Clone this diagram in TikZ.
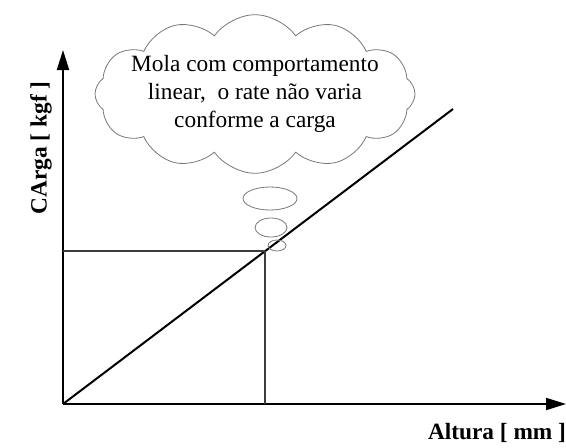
\documentclass[tikz,border=0pt]{standalone}
\usepackage{fontspec}
\setmainfont{Liberation Serif}
\usetikzlibrary{arrows.meta,shapes.symbols}

\begin{document}
\begin{tikzpicture}[x=0.75pt,y=0.75pt,yscale=-1,xscale=1]
\useasboundingbox (0,0) rectangle (566,447);
\tikzset{axis/.style={line width=1.5pt,-{Triangle[length=15pt,width=9pt]}},
  guide/.style={color={rgb, 255:red, 60; green, 60; blue, 60 },line width=1pt},
  bubble/.style={draw={rgb, 255:red, 120; green, 120; blue, 120 },line width=0.6pt},
  axlabel/.style={font=\bfseries\fontsize{17.5}{21}\selectfont}}

%Points
\coordinate (O) at (63,404);
\coordinate (ytip) at (63,50);
\coordinate (xtip) at (566,404);
\coordinate (P) at (265,251);
\coordinate (lend) at (453,109);

%Axes
\draw [axis] (O) -- (ytip);
\draw [axis] (O) -- (xtip);
%Straight line
\draw [line width=1.5pt] (O) -- (lend);
%Guides
\draw [guide] (P) -- (P -| O);
\draw [guide] (P) -- (P |- O);

%Labels
\node [axlabel,rotate=90] (ylab) at (41,148) {CArga [ kgf ]};
\node [axlabel] (xlab) at (497,433) {Altura [ mm ]};

%Shape: Cloud
\node [bubble,cloud,cloud puffs=12,cloud puff arc=110,cloud ignores aspect,minimum width=240pt,minimum height=119pt,inner sep=0pt] (cloud) at (255,94) {};
\node [align=center,font=\fontsize{17.5}{21}\selectfont] (note) at (cloud.center) {Mola com comportamento\\linear,\ \ o rate não varia\\conforme a carga};
%Shape: Ellipses
\draw [bubble] (270,198.5) ellipse (27 and 11.5);
\draw [bubble] (271,227.5) ellipse (16 and 9.5);
\draw [bubble] (277,245.5) ellipse (9 and 5.5);

\end{tikzpicture}
\end{document}
